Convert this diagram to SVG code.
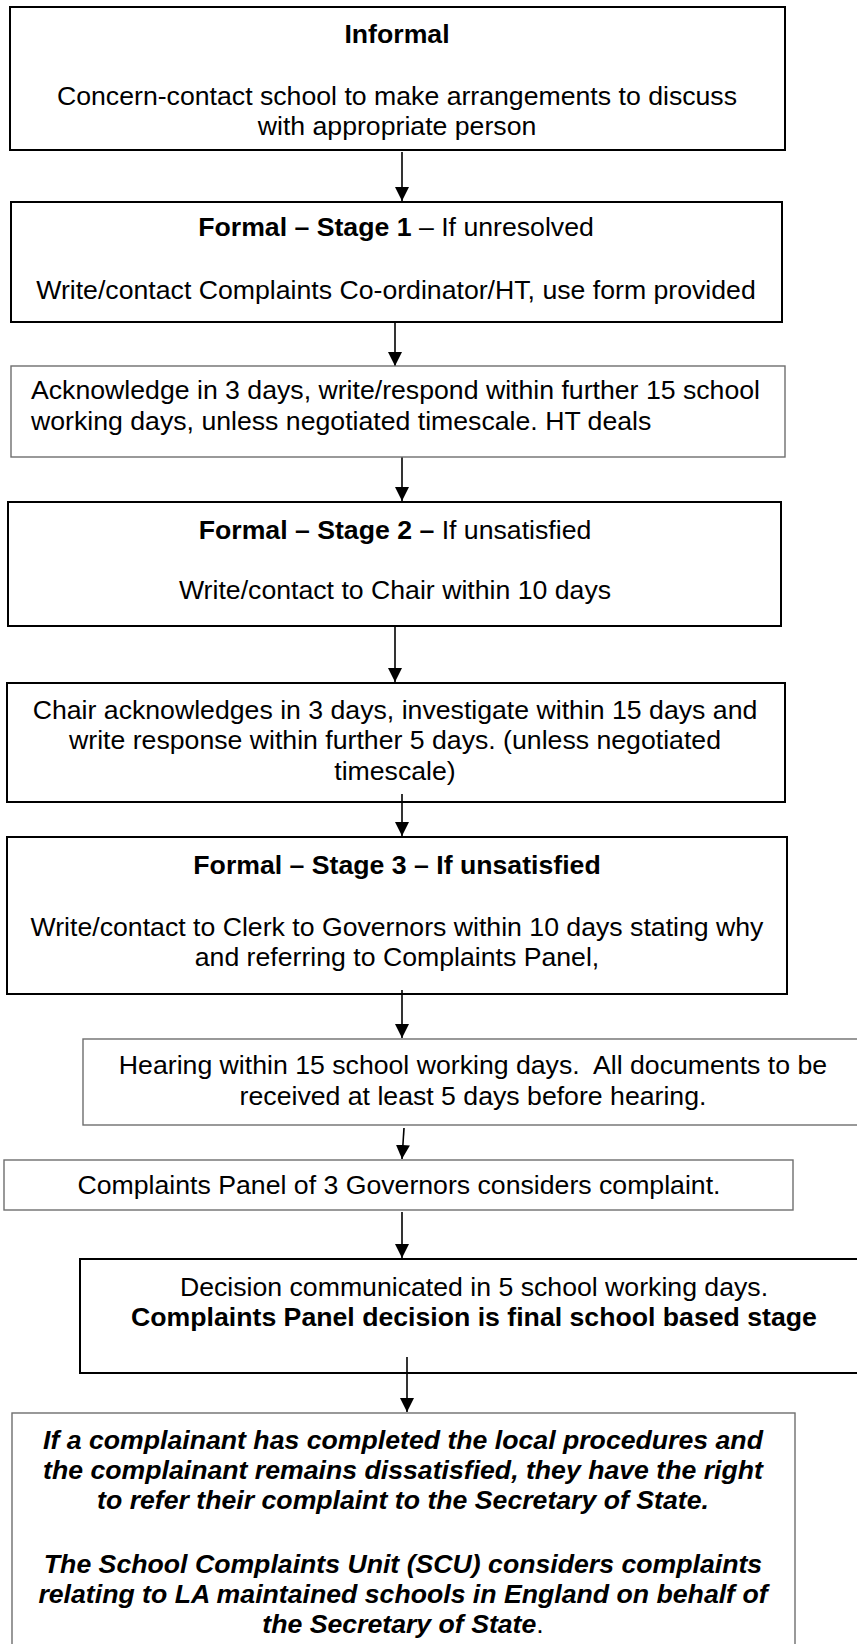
<svg xmlns="http://www.w3.org/2000/svg" width="857" height="1644" viewBox="0 0 857 1644">
<defs>
<style>
.bk{fill:#fff;stroke:#000;stroke-width:2}
.gr{fill:#fff;stroke:#6e6e6e;stroke-width:1.4}
text{font-family:"Liberation Sans",Arial,sans-serif;font-size:26.67px;fill:#000}
.c{text-anchor:middle}
.b{font-weight:bold}
.bi{font-weight:bold;font-style:italic}
.ln{stroke:#000;stroke-width:1.6;fill:none}
</style>
<marker id="ah" viewBox="0 0 14 15" refX="14" refY="7" markerUnits="userSpaceOnUse" markerWidth="14" markerHeight="15" orient="auto">
<path d="M0,0 L14,7 L0,14 Z" fill="#000"/>
</marker>
</defs>
<rect width="857" height="1644" fill="#fff"/>
<g id="connectors">
<line class="ln" x1="402" y1="152" x2="402" y2="201" marker-end="url(#ah)"/>
<line class="ln" x1="395" y1="322" x2="395" y2="366" marker-end="url(#ah)"/>
<line class="ln" x1="402" y1="452" x2="402" y2="501" marker-end="url(#ah)"/>
<line class="ln" x1="395" y1="627" x2="395" y2="682" marker-end="url(#ah)"/>
</g>
<g id="n1">
<rect class="bk" x="10" y="7" width="775" height="143"/>
<text class="c b" x="397" y="43">Informal</text>
<text class="c" x="397" y="105">Concern-contact school to make arrangements to discuss</text>
<text class="c" x="397" y="135">with appropriate person</text>
</g>
<g id="n2">
<rect class="bk" x="11" y="202" width="771" height="120"/>
<text class="c" x="396" y="236"><tspan class="b">Formal – Stage 1</tspan> – If unresolved</text>
<text class="c" x="396" y="299">Write/contact Complaints Co-ordinator/HT, use form provided</text>
</g>
<g id="n3">
<rect class="gr" x="11" y="366" width="774" height="91"/>
<text x="31" y="399">Acknowledge in 3 days, write/respond within further 15 school</text>
<text x="31" y="430">working days, unless negotiated timescale. HT deals</text>
</g>
<g id="n4">
<rect class="bk" x="8" y="502" width="773" height="124"/>
<text class="c" x="395" y="539"><tspan class="b">Formal – Stage 2 –</tspan> If unsatisfied</text>
<text class="c" x="395" y="599">Write/contact to Chair within 10 days</text>
</g>
<g id="n5">
<rect class="bk" x="7" y="683" width="778" height="119"/>
<text class="c" x="395" y="719">Chair acknowledges in 3 days, investigate within 15 days and</text>
<text class="c" x="395" y="749">write response within further 5 days. (unless negotiated</text>
<text class="c" x="395" y="780">timescale)</text>
</g>
<g id="n6">
<rect class="bk" x="7" y="837" width="780" height="157"/>
<text class="c b" x="397" y="874">Formal – Stage 3 – If unsatisfied</text>
<text class="c" x="397" y="936">Write/contact to Clerk to Governors within 10 days stating why</text>
<text class="c" x="397" y="966">and referring to Complaints Panel,</text>
</g>
<g id="n7">
<rect class="gr" x="83" y="1039" width="781" height="86"/>
<text class="c" x="473" y="1074" xml:space="preserve">Hearing within 15 school working days.  All documents to be</text>
<text class="c" x="473" y="1105">received at least 5 days before hearing.</text>
</g>
<g id="n8">
<rect class="gr" x="4" y="1160" width="789" height="50"/>
<text class="c" x="399" y="1194">Complaints Panel of 3 Governors considers complaint.</text>
</g>
<g id="n9">
<rect class="bk" x="80" y="1259" width="790" height="114"/>
<text class="c" x="474" y="1296">Decision communicated in 5 school working days.</text>
<text class="c b" x="474" y="1326">Complaints Panel decision is final school based stage</text>
</g>
<g id="n10">
<rect class="gr" x="12" y="1413" width="783" height="260"/>
<text class="c bi" x="403" y="1449">If a complainant has completed the local procedures and</text>
<text class="c bi" x="403" y="1479">the complainant remains dissatisfied, they have the right</text>
<text class="c bi" x="403" y="1509">to refer their complaint to the Secretary of State.</text>
<text class="c bi" x="403" y="1573">The School Complaints Unit (SCU) considers complaints</text>
<text class="c bi" x="403" y="1603">relating to LA maintained schools in England on behalf of</text>
<text class="c" x="403" y="1633"><tspan class="bi">the Secretary of State</tspan>.</text>
</g>
<g id="connectors2">
<line class="ln" x1="402" y1="794" x2="402" y2="836" marker-end="url(#ah)"/>
<line class="ln" x1="402" y1="990" x2="402" y2="1038" marker-end="url(#ah)"/>
<line class="ln" x1="404" y1="1128" x2="402" y2="1159" marker-end="url(#ah)"/>
<line class="ln" x1="402" y1="1212" x2="402" y2="1258" marker-end="url(#ah)"/>
<line class="ln" x1="407" y1="1357" x2="407" y2="1412" marker-end="url(#ah)"/>
</g>
</svg>
